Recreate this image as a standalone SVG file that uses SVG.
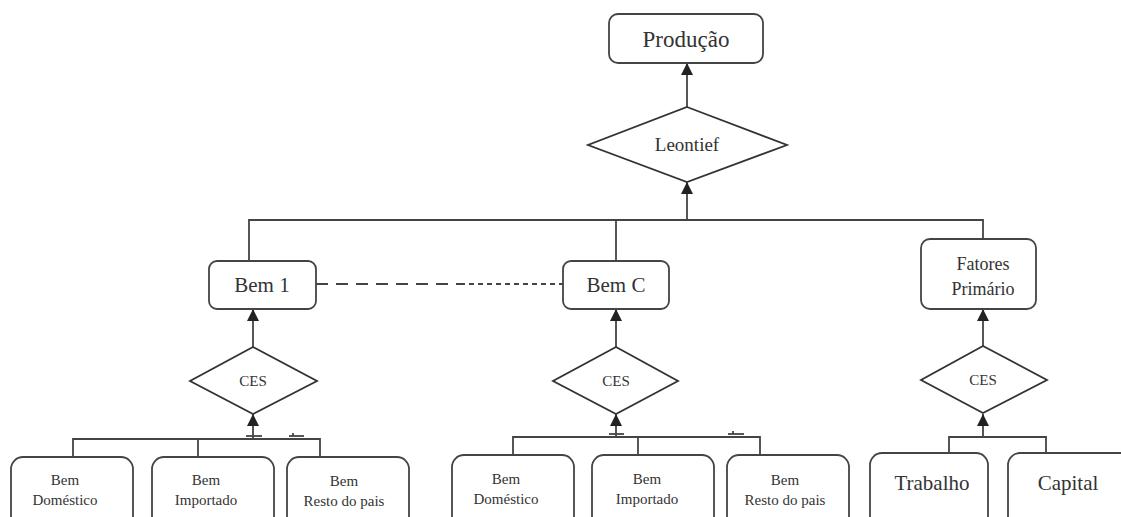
<svg xmlns="http://www.w3.org/2000/svg" width="1121" height="517" viewBox="0 0 1121 517">
<style>
.box{fill:#fff;stroke:#444;stroke-width:1.8}
.dia{fill:#fff;stroke:#333;stroke-width:1.8}
.ln{fill:none;stroke:#444;stroke-width:1.8}
.t{font-family:"Liberation Serif",serif;fill:#333;text-anchor:middle}
</style>
<defs>
<marker id="ah" markerUnits="userSpaceOnUse" markerWidth="12" markerHeight="12" refX="12" refY="6" orient="auto">
<path d="M0,0 L12,6 L0,12 z" fill="#222"/>
</marker>
</defs>
<rect width="1121" height="517" fill="#fff"/>
<g id="connectors">
<line class="ln" x1="687" y1="107" x2="687" y2="63" marker-end="url(#ah)"/>
<line class="ln" x1="687" y1="221" x2="687" y2="182" marker-end="url(#ah)"/>
<polyline class="ln" points="249,261 249,220 983,220 983,239"/>
<line class="ln" x1="616" y1="220" x2="616" y2="261"/>
<line class="ln" x1="316" y1="284" x2="460" y2="284" stroke-dasharray="12,8"/>
<line class="ln" x1="460" y1="284" x2="563" y2="284" stroke-dasharray="5,4"/>
<line class="ln" x1="253" y1="347" x2="253" y2="309" marker-end="url(#ah)"/>
<line class="ln" x1="616" y1="347" x2="616" y2="309" marker-end="url(#ah)"/>
<line class="ln" x1="983" y1="346" x2="983" y2="309" marker-end="url(#ah)"/>
<line class="ln" x1="253" y1="438" x2="253" y2="414" marker-end="url(#ah)"/>
<line class="ln" x1="616" y1="437" x2="616" y2="414" marker-end="url(#ah)"/>
<line class="ln" x1="983" y1="437" x2="983" y2="414" marker-end="url(#ah)"/>
<polyline class="ln" points="73,457 73,439 320,439 320,457"/>
<line class="ln" x1="198" y1="439" x2="198" y2="457"/>
<line class="ln" x1="246" y1="436" x2="262" y2="436" stroke-width="1"/>
<line class="ln" x1="289" y1="436" x2="304" y2="436" stroke-width="1"/>
<line class="ln" x1="293" y1="433" x2="293" y2="436" stroke-width="1"/>
<polyline class="ln" points="513,455 513,437 760,437 760,455"/>
<line class="ln" x1="638" y1="437" x2="638" y2="455"/>
<line class="ln" x1="609" y1="434" x2="624" y2="434" stroke-width="1"/>
<line class="ln" x1="728" y1="434" x2="744" y2="434" stroke-width="1"/>
<line class="ln" x1="733" y1="431" x2="733" y2="434" stroke-width="1"/>
<polyline class="ln" points="949,453 949,437 1046,437 1046,453"/>
</g>
<g id="producao"><rect class="box" x="609" y="14" width="154" height="49" rx="9"/><text class="t" x="686" y="47" font-size="23">Produção</text></g>
<g id="leontief"><polygon class="dia" points="687,107 787,145 687,182 588,145"/><text class="t" x="687" y="151" font-size="19">Leontief</text></g>
<g id="bem1"><rect class="box" x="209" y="261" width="107" height="48" rx="8"/><text class="t" x="262" y="292" font-size="21">Bem 1</text></g>
<g id="bemC"><rect class="box" x="563" y="261" width="106" height="48" rx="8"/><text class="t" x="616" y="292" font-size="21">Bem C</text></g>
<g id="fatores"><rect class="box" x="921" y="239" width="115" height="70" rx="9"/><text class="t" x="983" y="270" font-size="18">Fatores</text><text class="t" x="983" y="295" font-size="18">Primário</text></g>
<g id="ces1"><polygon class="dia" points="253,347 317,381 253,414 190,381"/><text class="t" x="253" y="386" font-size="15">CES</text></g>
<g id="ces2"><polygon class="dia" points="616,347 678,381 616,414 553,381"/><text class="t" x="616" y="386" font-size="15">CES</text></g>
<g id="ces3"><polygon class="dia" points="983,346 1047,380 983,413 921,380"/><text class="t" x="983" y="385" font-size="15">CES</text></g>
<g id="l-dom"><rect class="box" x="11" y="457" width="122" height="80" rx="12"/><text class="t" x="65" y="485" font-size="15">Bem</text><text class="t" x="65" y="505" font-size="15">Doméstico</text></g>
<g id="l-imp"><rect class="box" x="152" y="457" width="122" height="80" rx="12"/><text class="t" x="206" y="485" font-size="15">Bem</text><text class="t" x="206" y="505" font-size="15">Importado</text></g>
<g id="l-res"><rect class="box" x="287" y="457" width="122" height="80" rx="12"/><text class="t" x="344" y="486" font-size="15">Bem</text><text class="t" x="344" y="506" font-size="15">Resto do pais</text></g>
<g id="m-dom"><rect class="box" x="452" y="455" width="122" height="80" rx="12"/><text class="t" x="506" y="484" font-size="15">Bem</text><text class="t" x="506" y="504" font-size="15">Doméstico</text></g>
<g id="m-imp"><rect class="box" x="592" y="455" width="122" height="80" rx="12"/><text class="t" x="647" y="484" font-size="15">Bem</text><text class="t" x="647" y="504" font-size="15">Importado</text></g>
<g id="m-res"><rect class="box" x="727" y="455" width="122" height="80" rx="12"/><text class="t" x="785" y="485" font-size="15">Bem</text><text class="t" x="785" y="505" font-size="15">Resto do pais</text></g>
<g id="trabalho"><rect class="box" x="870" y="453" width="118" height="80" rx="12"/><text class="t" x="932" y="490" font-size="21">Trabalho</text></g>
<g id="capital"><rect class="box" x="1008" y="453" width="125" height="80" rx="12"/><text class="t" x="1068" y="490" font-size="21">Capital</text></g>
</svg>
